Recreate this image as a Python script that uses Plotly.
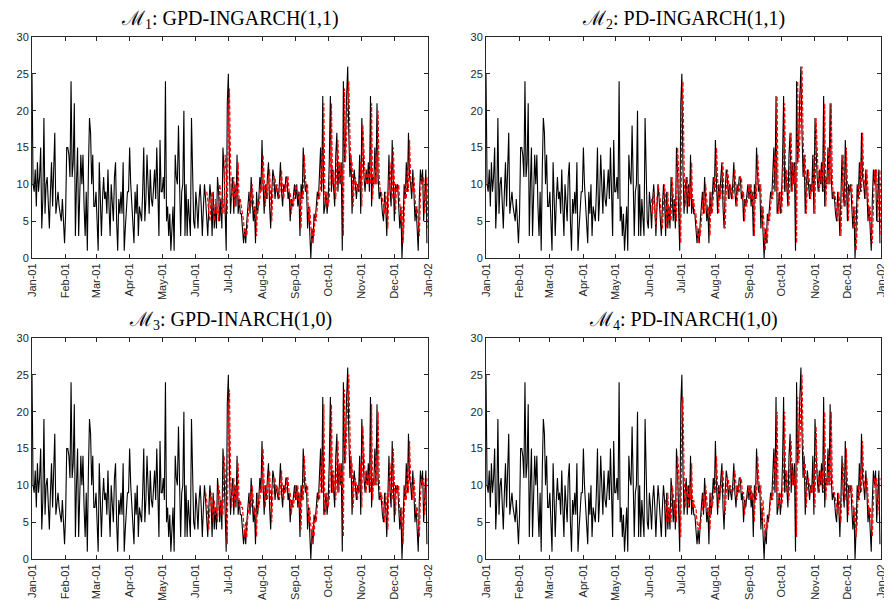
import pandas as pd
import plotly.graph_objects as go

# observed daily counts (same series in every panel)
jan = [25,10,9,12,7,13,9,11,15,4,8,19,6,10,11,6,4,9,13,7,12,17,6,8,9,7,6,5,8,4,2]
feb = [6,15,15,14,11,24,11,13,21,3,10,15,3,8,14,10,14,7,3,9,1,12,19,17,10,14,7,7]
mar = [9,5,1,13,6,3,8,11,8,9,6,12,7,3,10,8,5,11,13,5,1,8,6,9,6,13,1,4,7,9,9]
apr = [15,10,7,5,2,9,6,10,3,7,6,5,9,15,5,8,14,9,6,12,8,7,10,12,8,15,9,3,16,9]
may = [9,11,8,24,5,7,3,6,1,4,7,1,14,11,10,18,7,3,9,10,20,3,10,3,8,6,3,19,11,5,4]
jun = [9,7,4,8,10,7,3,7,10,8,5,3,7,10,8,3,9,4,7,4,11,9,5,8,4,15,12,6,1,21]
jul = [25,12,6,9,11,6,10,7,14,6,8,6,6,4,2,4,2,5,7,9,6,11,8,5,7,2,9,6,8,11,9]
aug = [16,10,6,10,8,11,13,7,4,9,12,11,8,10,9,8,10,13,9,7,10,9,11,11,8,9,5,8,7,9,10]
sep = [8,10,7,9,3,10,8,15,11,9,10,4,7,4,0,4,2,6,5,7,9,8,11,15,9,22,6,7,9,6]
oct = [8,13,22,9,12,9,7,14,17,9,13,10,13,1,24,13,16,22,26,17,11,14,6,10,12,10,8,10,9,14,6]
nov = [19,13,11,9,12,10,13,9,22,7,11,10,15,10,21,11,8,9,8,6,5,9,7,3,10,14,9,7,16,10]
dec = [5,10,9,10,6,4,7,0,4,10,8,13,9,17,11,10,8,12,9,5,7,3,1,8,12,10,12,5,9,12,2]
observed = jan + feb + mar + apr + may + jun + jul + aug + sep + oct + nov + dec

# one-step forecasts of each model (red dashed)
m1_start = "2001-06-11"
m1_fc = ([9,8,6,5,8,9,7,5,8,6,7,5,10,9,6,8,6,14,12,6,19] +
         [23,13,8,9,11,7,10,8,13,7,8,7,6,5,3,4,3,5,7,9,7,10,8,6,7,3,8,7,8,10,9] +
         [14,11,7,10,8,11,12,8,5,9,11,11,9,10,9,8,10,12,9,8,10,9,11,11,9,9,6,8,7,9,10] +
         [9,9,8,9,4,9,8,14,11,9,10,5,7,5,2,4,3,6,5,7,9,8,10,14,10,21,8,7,9,7] +
         [8,12,21,10,12,9,8,13,16,10,13,10,12,3,23,13,16,21,24,17,12,13,7,10,11,10,9,10,9,13,7] +
         [18,13,11,10,12,10,12,10,21,8,11,10,14,10,20,11,9,9,8,7,6,9,7,4,10,13,9,8,15,10] +
         [6,10,9,10,7,5,7,2,5,10,8,12,9,16,11,10,9,11,9,6,7,4,3,8,11,10,11,6,9,11,4])

m2_start = "2001-06-03"
m2_fc = ([8,6,9,7,4,8,10,9] +
         [8,5,4,7,10,8,4,9,5,7,5,11,9,6,8,5,15,12,6,2,21] +
         [24,13,7,9,11,7,10,8,13,7,8,6,6,4,2,4,3,5,7,9,6,10,8,6,7,3,9,6,8,11,9] +
         [15,11,6,10,8,11,13,7,4,9,12,11,8,10,9,8,10,12,9,7,10,9,11,11,8,9,5,8,7,9,10] +
         [8,10,7,9,3,10,8,14,11,9,10,4,7,4,1,4,2,6,5,7,9,8,11,14,9,22,6,7,9,6] +
         [8,13,21,9,12,9,7,14,17,9,13,10,13,2,24,13,16,22,26,17,11,14,6,10,12,10,8,10,9,14,6] +
         [19,13,11,9,12,10,13,9,21,7,11,10,15,10,21,11,8,9,8,6,5,9,7,3,10,14,9,7,15,10] +
         [5,10,9,10,6,4,7,1,4,10,8,13,9,17,11,10,8,12,9,5,7,3,2,8,12,10,12,5,9,12,3])

m3_start = "2001-06-10"
m3_fc = ([9,8,6,4,7,9,8,5,8,6,7,5,10,9,6,8,6,14,12,7,2] +
         [20,23,12,7,9,11,7,10,8,13,7,8,7,7,5,3,5,3,6,7,9,7,10,8,6,7,3,9,7,8,10] +
         [9,15,10,7,10,8,11,12,8,5,9,11,11,9,10,9,8,10,12,9,8,10,9,11,11,9,9,6,8,7,9] +
         [10,8,10,7,9,4,10,8,14,11,9,10,5,7,5,2,5,3,6,5,7,9,8,11,14,9,21,6,7,9] +
         [7,8,12,21,9,12,9,8,13,16,9,13,10,12,3,23,13,16,21,25,17,11,13,7,10,11,10,8,10,9,13] +
         [7,18,13,11,9,12,10,12,9,21,8,11,10,14,10,20,11,8,9,8,6,5,9,7,4,10,13,9,8,15] +
         [10,6,10,9,10,6,5,7,2,5,10,8,12,9,16,11,10,8,11,9,6,7,4,3,8,11,10,11,6,9,11])

m4_start = "2001-06-16"
m4_fc = ([8,5,9,5,7,5,10,9,6,8,5,14,12,7,3] +
         [19,22,12,7,9,10,7,10,8,13,7,8,7,7,5,4,5,4,6,7,9,7,10,8,6,7,4,9,7,8,10] +
         [9,14,10,7,10,9,11,12,8,6,9,11,11,9,10,9,9,10,12,9,8,10,9,11,11,9,9,6,8,8,9] +
         [10,8,10,8,9,5,10,8,14,11,9,10,5,8,5,3,5,4,6,6,8,9,8,11,14,9,20,7,8,9] +
         [7,8,12,20,9,12,9,8,13,16,10,12,10,12,3,22,13,15,21,25,16,11,13,7,10,11,10,9,10,9,13] +
         [7,18,12,11,9,12,10,12,9,20,8,11,10,14,10,20,11,9,9,8,7,6,9,7,5,10,13,9,8,15] +
         [10,6,10,9,10,7,5,7,3,5,10,8,12,9,16,11,10,9,11,9,6,7,4,3,8,11,10,11,6,9,11])

titles = ["ℳ<sub>1</sub>: GPD-INGARCH(1,1)", "ℳ<sub>2</sub>: PD-INGARCH(1,1)",
          "ℳ<sub>3</sub>: GPD-INARCH(1,0)", "ℳ<sub>4</sub>: PD-INARCH(1,0)"]
forecasts = [(m1_start, m1_fc), (m2_start, m2_fc), (m3_start, m3_fc), (m4_start, m4_fc)]
y_ticks = [0, 5, 10, 15, 20, 25, 30]
month_ticks = pd.date_range("2001-01-01", "2002-01-01", freq="MS")

# page body adds an 8px margin, so the figure fills the rest of the window
W, H = 884, 594
dates = pd.date_range("2001-01-01", periods=len(observed), freq="D")

# panel boxes in figure pixels: left, right, top, bottom
boxes = [(24, 420, 29, 250), (478, 873, 29, 250),
         (24, 420, 330, 551), (478, 873, 330, 551)]

fig = go.Figure()
axcol = "#262626"
for i, (box, title, (start, fc)) in enumerate(zip(boxes, titles, forecasts)):
    n = "" if i == 0 else str(i + 1)
    xa, ya = "x" + n, "y" + n
    fig.add_trace(go.Scatter(x=dates, y=observed, mode="lines", xaxis=xa, yaxis=ya,
                             line=dict(color="black", width=1.1), showlegend=False))
    fc_dates = pd.date_range(start, periods=len(fc), freq="D")
    fig.add_trace(go.Scatter(x=fc_dates, y=fc, mode="lines", xaxis=xa, yaxis=ya,
                             line=dict(color="red", width=1.2, dash="4px,2px"),
                             showlegend=False))
    l, r, t, b = box
    common = dict(showline=True, mirror="ticks", linecolor=axcol, linewidth=1,
                  ticks="inside", ticklen=4, tickcolor=axcol, showgrid=False,
                  zeroline=False, automargin=False,
                  tickfont=dict(family="Liberation Sans, Arial", size=11, color=axcol))
    fig.update_layout(**{
        "xaxis" + n: dict(domain=[l / W, r / W], anchor=ya, type="date",
                          range=["2001-01-01", "2002-01-01"], tickvals=month_ticks,
                          tickformat="%b-%y", tickangle=-90, **common),
        "yaxis" + n: dict(domain=[1 - b / H, 1 - t / H], anchor=xa, range=[0, 30],
                          tickvals=y_ticks, **common),
    })
    fig.add_annotation(text=title, x=(l + r) / 2 / W, y=1 - (t - 3) / H, xref="paper", yref="paper",
                       xanchor="center", yanchor="bottom", showarrow=False,
                       font=dict(family="Liberation Serif, DejaVu Serif, serif", size=20, color="black"))

fig.update_layout(width=W, height=H, margin=dict(l=0, r=0, t=0, b=0),
                  plot_bgcolor="white", paper_bgcolor="white")

fig.write_html("out.html")
